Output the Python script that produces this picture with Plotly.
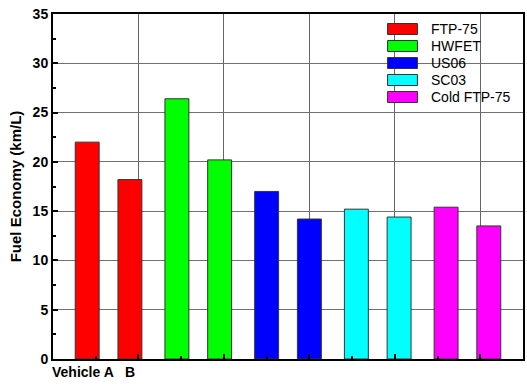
import plotly.graph_objects as go

cycles = ["FTP-75", "HWFET", "US06", "SC03", "Cold FTP-75"]
colors = ["#ff0000", "#00ff00", "#0000ff", "#00ffff", "#ff00ff"]
# x positions (A, B) per cycle and fuel economy values (km/L)
pos_a = [0.8, 2.9, 5.0, 7.1, 9.2]
pos_b = [1.8, 3.9, 6.0, 8.1, 10.2]
vehicle_a = [22.0, 26.4, 17.0, 15.2, 15.4]
vehicle_b = [18.2, 20.2, 14.2, 14.4, 13.5]

fig = go.Figure()
for i, name in enumerate(cycles):
    fig.add_trace(go.Bar(
        x=[pos_a[i], pos_b[i]], y=[vehicle_a[i], vehicle_b[i]], name=name,
        width=0.56, marker=dict(color=colors[i], line=dict(color="#333333", width=1)),
        showlegend=False))

font_family = "Liberation Sans, Arial, sans-serif"
fig.update_layout(
    width=527, height=384,
    margin=dict(l=53, r=2, t=14, b=25),
    plot_bgcolor="white", paper_bgcolor="white",
    font=dict(family=font_family, color="black"),
    barmode="overlay",
)
fig.update_xaxes(
    range=[0, 11], tick0=0, dtick=2, showticklabels=False,
    ticks="inside", ticklen=5, tickwidth=2, tickcolor="black",
    minor=dict(dtick=1, ticks="inside", ticklen=3, tickwidth=1.5, tickcolor="black", showgrid=False),
    showgrid=True, gridcolor="#666666", gridwidth=1,
    showline=True, linecolor="black", linewidth=2, mirror=True, zeroline=False,
)
fig.update_yaxes(
    range=[0, 35], tick0=0, dtick=5,
    ticks="inside", ticklen=5, tickwidth=1.5, tickcolor="black",
    minor=dict(dtick=2.5, ticks="inside", ticklen=3, tickwidth=1.5, tickcolor="black", showgrid=False),
    showgrid=True, gridcolor="#707070", gridwidth=1,
    showline=True, linecolor="black", linewidth=2, mirror=True, zeroline=False,
    tickfont=dict(family=font_family, size=14, color="black", weight="bold"),
    title=dict(text="<b>Fuel Economy (km/L)</b>", font=dict(family=font_family, size=15), standoff=7),
)

# x labels for the vehicles
fig.add_annotation(x=pos_a[0], y=0, xref="x", yref="paper", yshift=-3, text="<b>Vehicle A</b>",
                   showarrow=False, xanchor="center", yanchor="top", xshift=-4,
                   font=dict(family=font_family, size=14))
fig.add_annotation(x=pos_b[0], y=0, xref="x", yref="paper", yshift=-3, text="<b>B</b>",
                   showarrow=False, xanchor="center", yanchor="top",
                   font=dict(family=font_family, size=14))

# manual legend with wide swatches
row_px = [29, 46, 63, 80, 97]
for i, name in enumerate(cycles):
    yc = (359 - row_px[i]) / 345
    h = 5.5 / 345
    fig.add_shape(type="rect", xref="paper", yref="paper",
                  x0=(389 - 53) / 472, x1=(419 - 53) / 472, y0=yc - h, y1=yc + h,
                  fillcolor=colors[i], line=dict(color="#333333", width=1))
    fig.add_annotation(x=(431 - 53) / 472, y=yc, xref="paper", yref="paper", text=name,
                       showarrow=False, xanchor="left", yanchor="middle",
                       font=dict(family=font_family, size=14, color="black"))

fig.write_html("out.html")
